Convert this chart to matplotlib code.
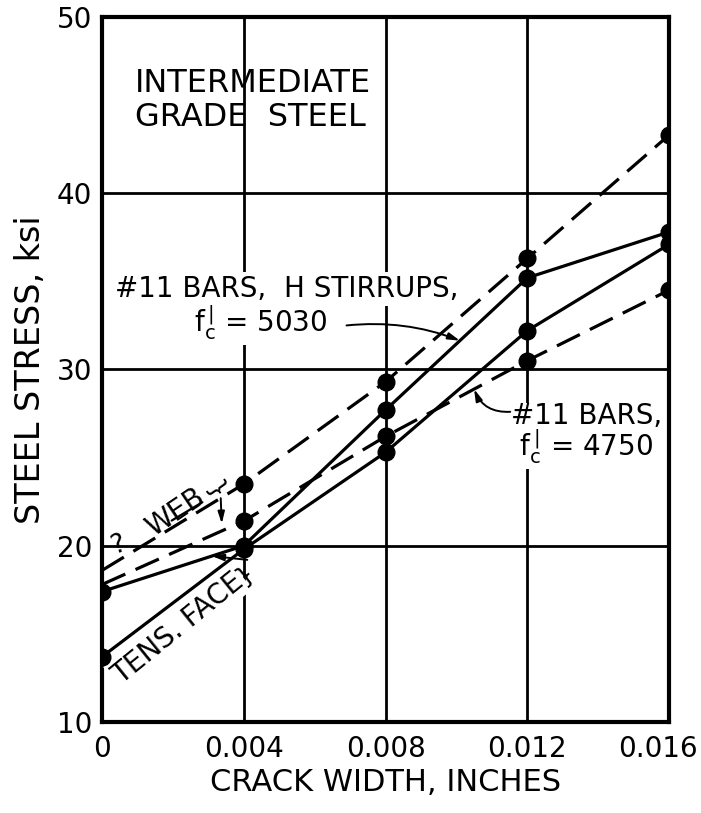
import numpy as np
import matplotlib
matplotlib.use("Agg")
import matplotlib.pyplot as plt
from matplotlib.transforms import ScaledTranslation

plt.rcParams["font.family"] = ["DejaVu Sans"]
plt.rcParams["mathtext.default"] = "regular"

# crack width (in.) and steel stress (ksi) for each test series
crack = [0, 0.004, 0.008, 0.012, 0.016]
h_stirrup_web = [18.6, 23.5, 29.3, 36.3, 43.3]
h_stirrup_tens = [17.4, 20.0, 27.7, 35.2, 37.8]
bars_web = [17.8, 21.4, 26.2, 30.5, 34.5]
bars_tens = [13.7, 19.8, 25.3, 32.2, 37.1]

x_ticks = [0, 0.004, 0.008, 0.012, 0.016]
x_labels = ["0", "0.004", "0.008", "0.012", "0.016"]
y_ticks = [10, 20, 30, 40, 50]

fig = plt.figure(figsize=(7.01, 8.13), dpi=100)
ax = fig.add_axes([102 / 701, 1 - 722 / 813, (669 - 102) / 701, (722 - 17) / 813])

lw = 2.3
ms = 12
dash = (8, 3.5)

# web readings are dashed, the first point is uncertain so it has no dot
ax.plot(crack, h_stirrup_web, color="black", lw=lw, dashes=dash,
        marker="o", ms=ms, markevery=slice(1, None), zorder=4)
ax.plot(crack, bars_web, color="black", lw=lw, dashes=dash,
        marker="o", ms=ms, markevery=slice(1, None), zorder=4)
ax.plot(crack, h_stirrup_tens, color="black", lw=lw, marker="o", ms=ms, zorder=4)
ax.plot(crack, bars_tens, color="black", lw=lw, marker="o", ms=ms, zorder=4)

ax.set_xlim(0, 0.016)
ax.set_ylim(10, 50)
ax.set_xticks(x_ticks)
ax.set_xticklabels(x_labels)
ax.set_yticks(y_ticks)
ax.grid(True, color="black", lw=2.0)
ax.set_axisbelow(True)
for sp in ax.spines.values():
    sp.set_linewidth(3)
ax.tick_params(length=0, labelsize=20)
ax.tick_params(axis="x", pad=9)
ax.tick_params(axis="y", pad=7)

# last x label sits left of its tick so it stays on the page
last = ax.get_xticklabels()[-1]
last.set_ha("right")
last.set_transform(last.get_transform() + ScaledTranslation(0.29, 0, fig.dpi_scale_trans))

ax.set_xlabel("CRACK WIDTH, INCHES", fontsize=22, labelpad=4)
ax.set_ylabel("STEEL STRESS, ksi", fontsize=24, labelpad=7)

box = dict(facecolor="white", edgecolor="none", pad=2)
fc = r"$f_{c}^{\,|}$"

ax.text(0.00093, 47.1, "INTERMEDIATE\nGRADE  STEEL", fontsize=23,
        ha="left", va="top", linespacing=1.1)

# H stirrup series label
arrow = dict(arrowstyle="-|>,head_length=0.7,head_width=0.2", color="black",
             lw=1.4, shrinkA=0, shrinkB=0)
ax.text(0.00037, 34.1, "#11 BARS,  H STIRRUPS,", fontsize=20,
        ha="left", va="baseline", bbox=box, zorder=3)
ax.text(0.0026, 32.1, fc + " = 5030", fontsize=20,
        ha="left", va="baseline", bbox=box, zorder=3)
x_tip = 0.0101
ax.annotate("", xy=(x_tip, np.interp(x_tip, crack, h_stirrup_tens)),
            xytext=(0.0069, 32.5), arrowprops=dict(arrow, connectionstyle="arc3,rad=-0.12"),
            zorder=5)

# plain bar series label
ax.text(0.01155, 28.15, "#11 BARS,\n " + fc + " = 4750", fontsize=20,
        ha="left", va="top", linespacing=0.9, bbox=box, zorder=3)
x_tip = 0.0105
ax.annotate("", xy=(x_tip, np.interp(x_tip, crack, bars_web)),
            xytext=(0.01152, 27.6), arrowprops=dict(arrow, connectionstyle="arc3,rad=-0.35"),
            zorder=5)

# web / tension face notes
ax.text(0.00206, 21.9, "WEB", fontsize=20, rotation=34, ha="center",
        va="center", rotation_mode="anchor", zorder=3)
ax.annotate("", xy=(0.0029, 22.55), xytext=(0.0019, 21.35),
            arrowprops=dict(arrowstyle="-", color="black", lw=1.6))
ax.text(0.0032, 23.1, "}", fontsize=18, rotation=-55, ha="center", va="center")
ax.annotate("", xy=(0.00338, 21.25), xytext=(0.00335, 22.7), arrowprops=arrow)
ax.text(0.00045, 20.05, "?", fontsize=19, rotation=20, ha="center", va="center")

ax.text(0.00214, 15.33, "TENS. FACE", fontsize=20, rotation=39, ha="center",
        va="center", rotation_mode="anchor", bbox=box, zorder=3)
ax.text(0.00405, 18.4, "}", fontsize=18, rotation=39, ha="center", va="center")
x_tip = 0.0031
ax.annotate("", xy=(x_tip, np.interp(x_tip, crack, h_stirrup_tens)),
            xytext=(0.0041, 19.2), arrowprops=arrow, zorder=5)

fig.savefig("out.png", dpi=100, facecolor="white")
